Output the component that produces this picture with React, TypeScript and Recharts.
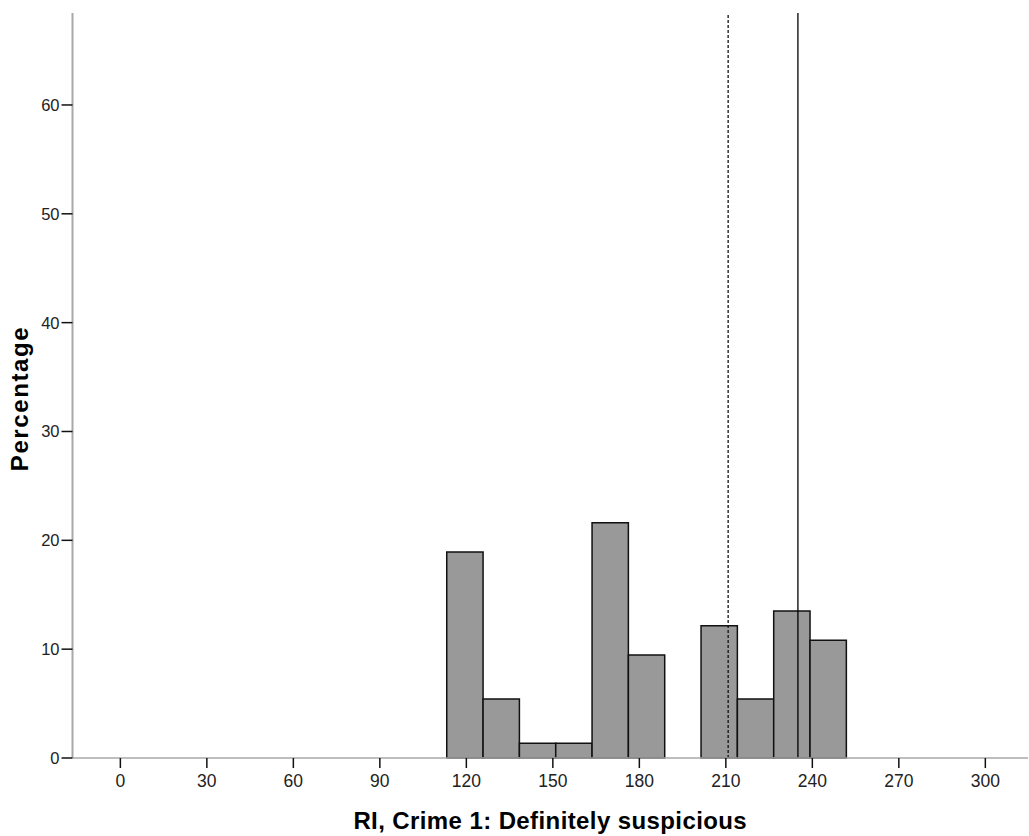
import React from "react";
import { ComposedChart, XAxis, YAxis, ReferenceArea, ReferenceLine, Scatter } from "recharts";

const binStarts = [113.2, 125.8, 138.4, 151.0, 163.6, 176.2, 188.8, 201.4, 214.0, 226.6, 239.2];
const binWidth = 12.6;
const percentages = [18.92, 5.41, 1.35, 1.35, 21.62, 9.46, 0, 12.16, 5.41, 13.51, 10.81];
const xTicks = [0, 30, 60, 90, 120, 150, 180, 210, 240, 270, 300];
const yTicks = [0, 10, 20, 30, 40, 50, 60];
const medianLine = 210.8;
const meanLine = 235.0;

const data = binStarts.map((s, i) => ({ mid: s + binWidth / 2, pct: percentages[i] }));

const font = "'Liberation Sans', Arial, sans-serif";

export default function App() {
  return (
    <div style={{ position: "absolute", left: 0, top: 0, width: 1029, height: 836, background: "#fff" }}>
      <ComposedChart
        width={1029}
        height={836}
        data={data}
        margin={{ top: 13, right: 1, bottom: 0, left: 22.5 }}
      >
        <XAxis
          type="number"
          dataKey="mid"
          domain={[-16.6, 314.8]}
          ticks={xTicks}
          allowDataOverflow
          height={78}
          tickSize={10}
          tickMargin={7}
          axisLine={{ stroke: "#a8a8a8", strokeWidth: 1.5 }}
          tickLine={{ stroke: "#111", strokeWidth: 1.5 }}
          tick={{ fill: "#222", fontSize: 17.5, fontFamily: font }}
          label={{
            value: "RI, Crime 1: Definitely suspicious",
            position: "insideBottom",
            offset: 7,
            style: { fill: "#000", fontSize: 24, fontWeight: "bold", fontFamily: font, letterSpacing: 0.4 },
          }}
        />
        <YAxis
          type="number"
          domain={[0, 68.45]}
          ticks={yTicks}
          allowDataOverflow
          width={50}
          tickSize={11}
          tickMargin={2}
          axisLine={{ stroke: "#a8a8a8", strokeWidth: 2 }}
          tickLine={{ stroke: "#111", strokeWidth: 1.5 }}
          tick={{ fill: "#222", fontSize: 16.5, fontFamily: font }}
          label={{
            value: "Percentage",
            angle: -90,
            position: "insideLeft",
            offset: -2.8,
            dy: 13,
            style: { fill: "#000", fontSize: 24, fontWeight: "bold", fontFamily: font, textAnchor: "middle", letterSpacing: 1.6 },
          }}
        />
        <Scatter dataKey="pct" fill="none" shape={() => null} isAnimationActive={false} />
        {binStarts.map((s, i) =>
          percentages[i] > 0 ? (
            <ReferenceArea
              key={i}
              x1={s}
              x2={s + binWidth}
              y1={0}
              y2={percentages[i]}
              fill="#999999"
              fillOpacity={1}
              stroke="#111"
              strokeWidth={1.5}
              ifOverflow="visible"
            />
          ) : null
        )}
        <ReferenceLine x={medianLine} stroke="#111" strokeWidth={1.3} strokeDasharray="3 2" />
        <ReferenceLine x={meanLine} stroke="#000" strokeWidth={1.3} />
      </ComposedChart>
    </div>
  );
}
